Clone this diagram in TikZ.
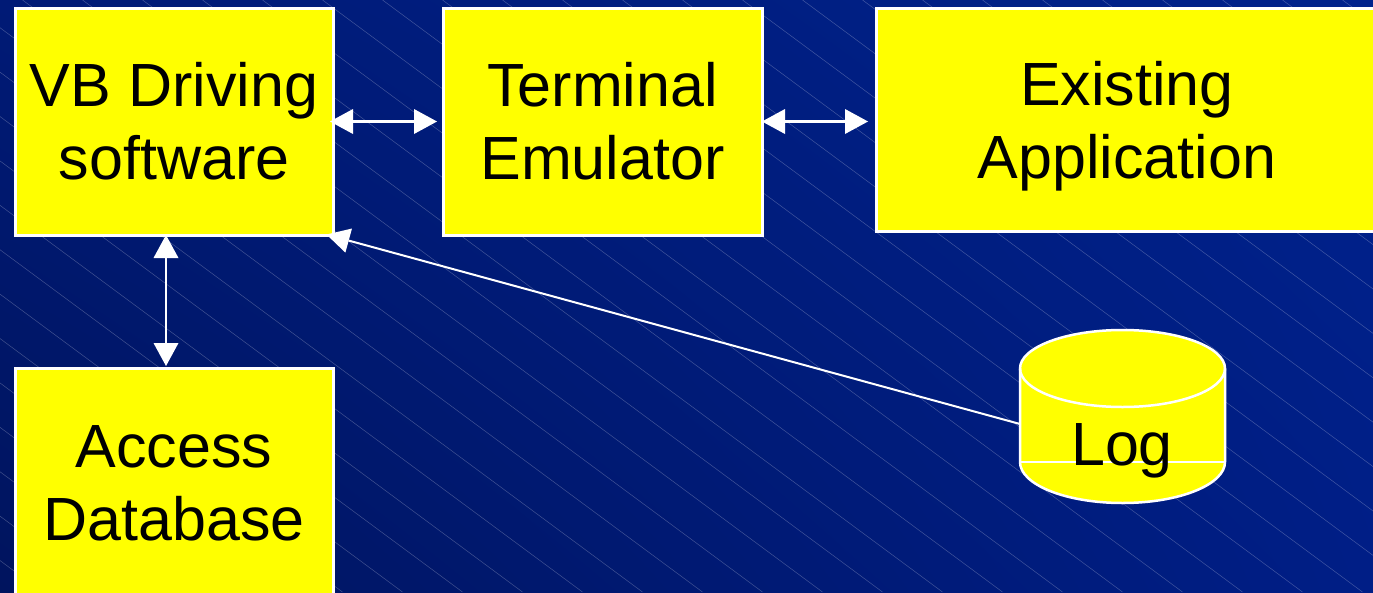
\documentclass[tikz,border=0pt]{standalone}
\usepackage{fontspec}
\setmainfont{Liberation Sans}
\usetikzlibrary{arrows.meta,shadings}
\definecolor{bgtl}{RGB}{0,26,118}
\definecolor{bgtr}{RGB}{0,34,140}
\definecolor{bgbl}{RGB}{0,20,94}
\definecolor{bgbr}{RGB}{0,30,134}
\definecolor{boxyellow}{RGB}{255,255,0}

\begin{document}
\begin{tikzpicture}[x=1pt,y=-1pt,
    box/.style={draw=white,line width=3pt,fill=boxyellow,align=center,inner sep=0pt,
                font=\fontsize{61}{73}\selectfont},
    link/.style={draw=white,line width=2.5pt},
    head/.tip={Triangle[length=23pt,width=25pt,line width=0pt,fill=white]}]
    \useasboundingbox (0,0) rectangle (1373,592);
    \clip (0,0) rectangle (1373,592);
    % background
    \shade[upper left=bgtl,upper right=bgtr,lower left=bgbl,lower right=bgbr] (0,0) rectangle (1373,592);
    \foreach \k in {-14,...,23}
      \draw[white,opacity=.25,line width=.5pt] ({-37.5+60*\k},0) -- ++(800,592);

    \node[box,minimum width=318pt,minimum height=227pt] (vb) at (174,121.5) {VB Driving\\software};
    \node[box,minimum width=319pt,minimum height=227pt] (term) at (602.5,121.5) {Terminal\\Emulator};
    \node[box,minimum width=502pt,minimum height=223pt,text depth=0pt] (app) at (1127,119.5) {Existing\\Application};
    \node[box,minimum width=318pt,minimum height=230pt] (db) at (174,483) {Access\\Database};

    % log cylinder
    \filldraw[fill=boxyellow,draw=white,line width=2.5pt]
      (1020,368.5) -- (1020,462) arc[start angle=180,end angle=0,x radius=102.5,y radius=41]
      -- (1225,368.5) arc[start angle=360,end angle=180,x radius=102.5,y radius=38.5] -- cycle;
    \draw[white,line width=2.5pt] (1020,368.5) arc[start angle=180,end angle=0,x radius=102.5,y radius=38.5];
    \draw[white,line width=2pt] (1020,462) -- (1225,462);
    \node[font=\fontsize{61}{73}\selectfont] (log) at (1122,451) {Log};
    \coordinate (logside) at (1020,424);

    \path[link]
      (vb) edge[{head}-{head},shorten <=-4.5pt,shorten >=4.5pt] (term)
      (term.east) edge[{head}-{head},shorten <=-1.5pt,shorten >=6.5pt] (term.east -| app.west)
      ([xshift=-8pt]vb.south) edge[{head}-{head},shorten <=-1.5pt,shorten >=0.5pt] ([xshift=-8pt]db.north)
      (logside) edge[line width=2pt,-{head}] ([shift={(-8,-2)}]vb.south east);
\end{tikzpicture}
\end{document}
